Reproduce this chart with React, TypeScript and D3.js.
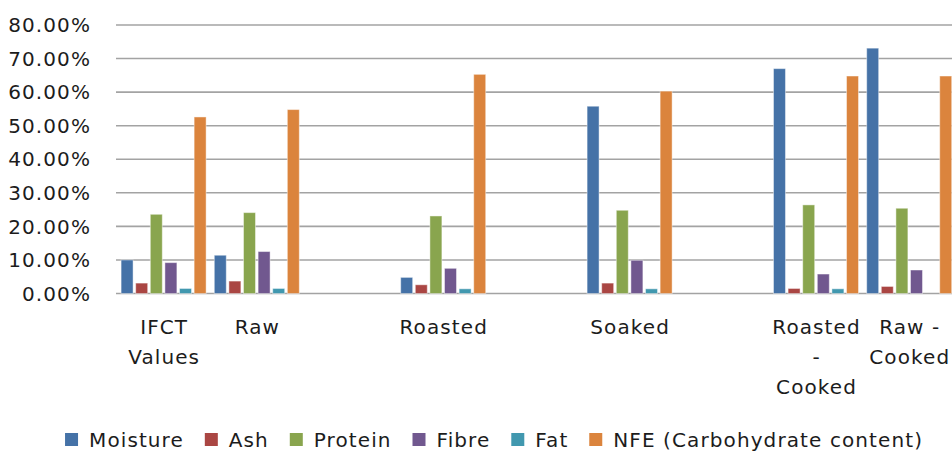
import { scaleBand, scaleLinear } from "d3"

// categories (blank slots are empty columns in the source sheet)
const categories: string[][] = [
  ["IFCT", "Values"],
  ["Raw"],
  [],
  ["Roasted"],
  [],
  ["Soaked"],
  [],
  ["Roasted", "-", "Cooked"],
  ["Raw -", "Cooked"],
]

const seriesNames = ["Moisture", "Ash", "Protein", "Fibre", "Fat", "NFE (Carbohydrate content)"]
const seriesColors = ["#4572A7", "#AA4643", "#89A54E", "#71588F", "#4198AF", "#DB843D"]

const moisture = [10.0, 11.4, null, 4.8, null, 55.8, null, 67.0, 73.1]
const ash = [3.1, 3.7, null, 2.6, null, 3.1, null, 1.5, 2.1]
const protein = [23.6, 24.1, null, 23.1, null, 24.8, null, 26.4, 25.4]
const fibre = [9.2, 12.5, null, 7.5, null, 9.9, null, 5.8, 7.0]
const fat = [1.5, 1.5, null, 1.4, null, 1.4, null, 1.4, 0]
const nfe = [52.6, 54.8, null, 65.3, null, 60.3, null, 64.8, 64.8]

const seriesValues: (number | null)[][] = [moisture, ash, protein, fibre, fat, nfe]

const yTicks = [0, 10, 20, 30, 40, 50, 60, 70, 80]

const W = 952
const H = 453
const FONT = "DejaVu Sans, Verdana, sans-serif"
const FS = 20
const LS = 1.1
const TEXT = "#1c1c1c"

function textWidth(s: string): number {
  const c = document.createElement("canvas").getContext("2d")
  if (!c) return s.length * FS * 0.6
  c.font = `${FS}px DejaVu Sans`
  return c.measureText(s).width + LS * (s.length - 1)
}

export default function App() {
  const keys = categories.map((_, i) => String(i))
  const x0 = scaleBand<string>().domain(keys).range([117, 117 + 93.2 * categories.length]).padding(0)
  const x1 = scaleBand<string>()
    .domain(seriesNames)
    .range([0, x0.bandwidth()])
    .paddingInner(0.18)
    .paddingOuter(0.28)
  const y = scaleLinear().domain([0, 80]).range([293.5, 25])

  // legend layout
  const items = seriesNames.map((n) => ({ name: n, w: textWidth(n) }))
  const total = items.reduce((a, it) => a + 24 + it.w + 22, 0) - 22
  let lx = 493.5 - total / 2
  const legend = items.map((it, i) => {
    const pos = lx
    lx += 24 + it.w + 22
    return { ...it, x: pos, color: seriesColors[i] }
  })

  return (
    <svg
      width={W}
      height={H}
      style={{ position: "absolute", left: 0, top: 0, background: "#fff" }}
      fontFamily={FONT}
      fontSize={FS}
      letterSpacing={LS}
    >
      {/* grid + y labels */}
      {yTicks.map((t) => (
        <g key={t}>
          <line x1={116} x2={W} y1={y(t)} y2={y(t)} stroke="#a3a3a3" strokeWidth={1.6} />
          <text x={91} y={y(t)} dy="0.36em" textAnchor="end" fill={TEXT}>
            {t.toFixed(2)}%
          </text>
        </g>
      ))}

      {/* bars */}
      {keys.map((k, ci) => (
        <g key={k} transform={`translate(${x0(k)},0)`}>
          {seriesNames.map((s, si) => {
            const v = seriesValues[si][ci]
            if (v == null || v <= 0) return null
            return (
              <rect
                key={s}
                x={x1(s)}
                y={y(v)}
                width={x1.bandwidth()}
                height={y(0) - y(v)}
                fill={seriesColors[si]}
                stroke="#ffffff"
                strokeOpacity={0.45}
                strokeWidth={1}
              />
            )
          })}
        </g>
      ))}

      {/* x labels */}
      {keys.map((k, ci) => (
        <text key={k} textAnchor="middle" fill={TEXT}>
          {categories[ci].map((line, li) => (
            <tspan key={li} x={(x0(k) ?? 0) + x0.bandwidth() / 2 + LS / 2} y={334 + li * 30}>
              {line}
            </tspan>
          ))}
        </text>
      ))}

      {/* legend */}
      {legend.map((it) => (
        <g key={it.name}>
          <rect x={it.x} y={433} width={13} height={13} fill={it.color} />
          <text x={it.x + 24} y={447} fill={TEXT}>
            {it.name}
          </text>
        </g>
      ))}
    </svg>
  )
}
